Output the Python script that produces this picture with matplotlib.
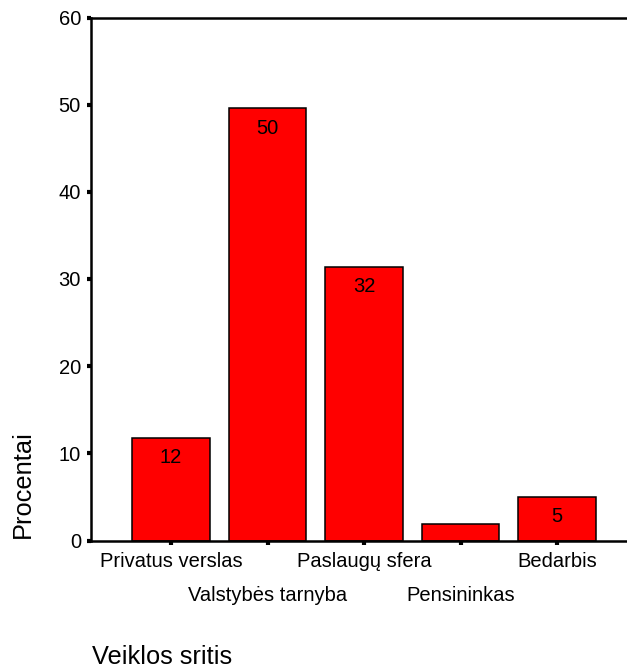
import matplotlib
matplotlib.use("Agg")
import matplotlib.pyplot as plt

categories = ["Privatus verslas", "Valstybės tarnyba", "Paslaugų sfera", "Pensininkas", "Bedarbis"]
values = [11.8, 49.6, 31.4, 1.9, 5.0]
bar_labels = ["12", "50", "32", "", "5"]
yticks = [0, 10, 20, 30, 40, 50, 60]

plt.rcParams['font.family'] = ['Liberation Sans', 'DejaVu Sans']

W, H = 627, 668
fig = plt.figure(figsize=(W / 100, H / 100), dpi=100)
ax = fig.add_axes([90.7 / W, 1 - 540.5 / H, 1 - 90.7 / W, (540.5 - 17.5) / H])

x = list(range(len(categories)))
bars = ax.bar(x, values, width=0.8, color='#ff0000', edgecolor='black', linewidth=1.1)

for b, lab in zip(bars, bar_labels):
    if lab:
        ax.annotate(lab, (b.get_x() + b.get_width() / 2, b.get_height()),
                    xytext=(0, -7.5), textcoords='offset points',
                    ha='center', va='top', fontsize=14.5)

ax.set_xlim(-0.832, 4.725)
ax.set_ylim(0, 60)
ax.set_yticks(yticks)
ax.set_xticks(x)
ax.set_xticklabels(categories)
ax.tick_params(axis='both', direction='out', length=3, width=3, labelsize=14.5)
ax.tick_params(axis='y', pad=4)
ax.tick_params(axis='x', pad=5)
for i, tick in enumerate(ax.xaxis.get_major_ticks()):
    if i % 2 == 1:
        tick.set_pad(5 + 24.5)

ax.spines['right'].set_visible(False)
for s in ['left', 'top', 'bottom']:
    ax.spines[s].set_linewidth(1.8)

fig.text(23 / W, 1 - 538 / H, "Procentai", rotation=90, ha='center', va='bottom', fontsize=18.3)
fig.text(92 / W, 1 - 664.5 / H, "Veiklos sritis", ha='left', va='baseline', fontsize=18.3)

fig.savefig("out.png", dpi=100)
